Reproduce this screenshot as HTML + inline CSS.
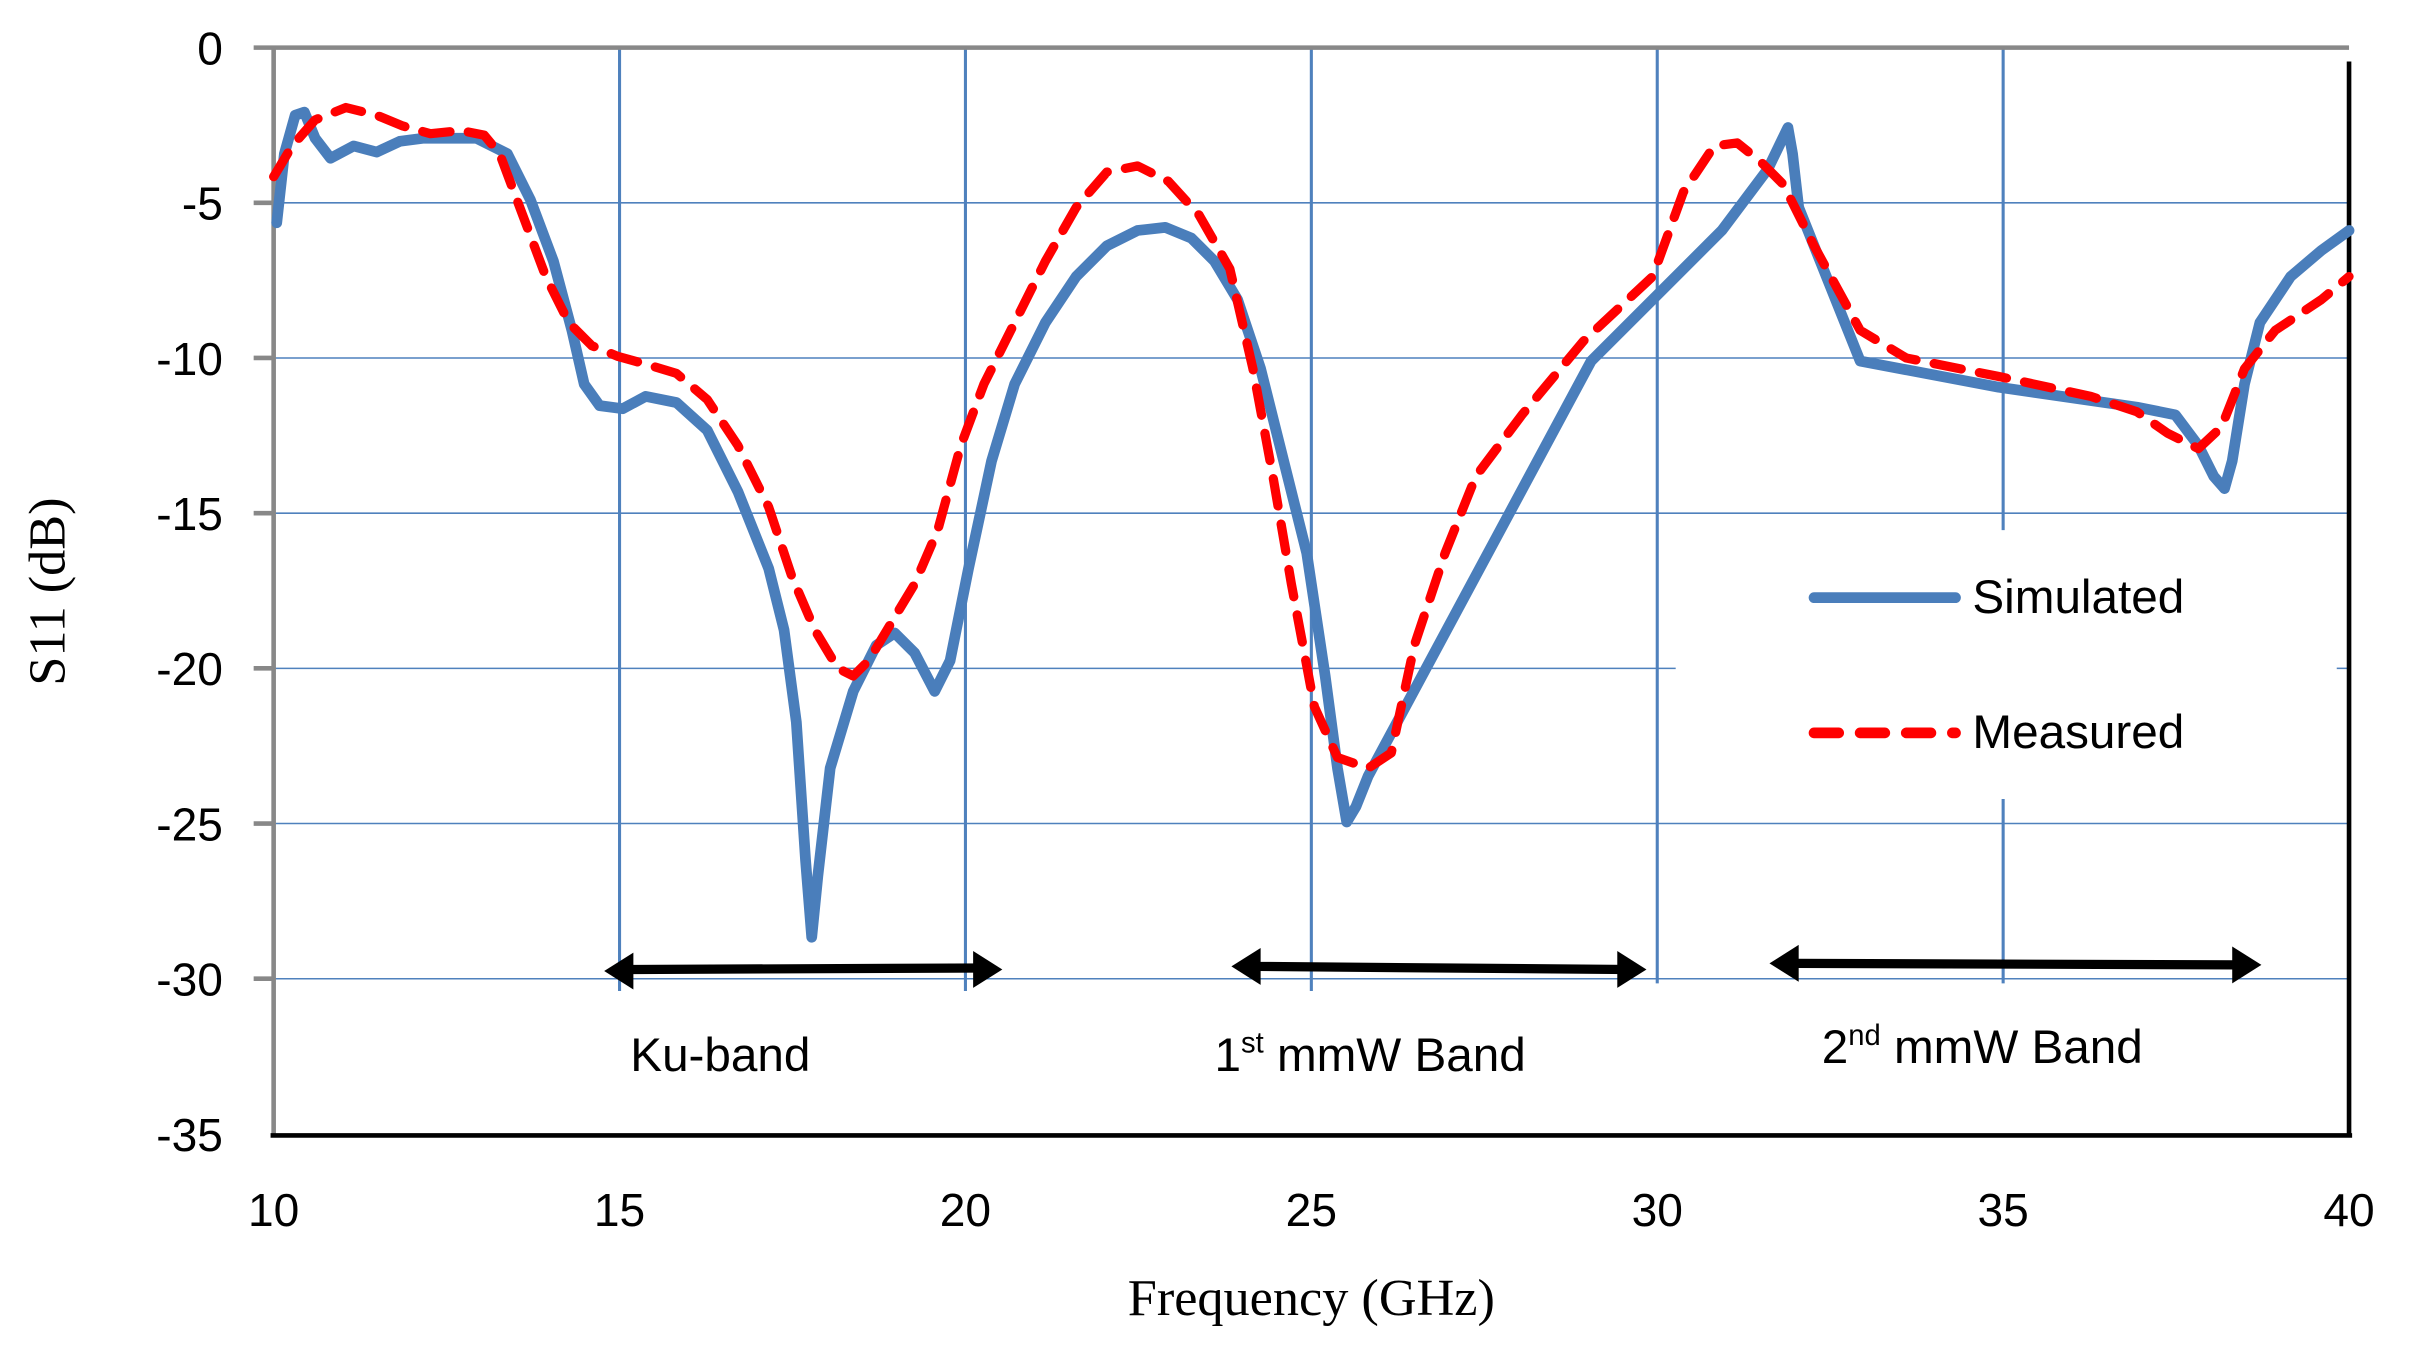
<!DOCTYPE html>
<html><head><meta charset="utf-8"><style>html,body{margin:0;padding:0;background:#fff}svg{display:block}</style></head>
<body>
<svg width="2409" height="1349" viewBox="0 0 1567 878" preserveAspectRatio="none" xmlns="http://www.w3.org/2000/svg">
<rect width="1567" height="878" fill="#fff"/>
<g stroke="#4f81bd" stroke-width="1">
<line x1="178" y1="132" x2="1528" y2="132"/>
<line x1="178" y1="233" x2="1528" y2="233"/>
<line x1="178" y1="334" x2="1528" y2="334"/>
<line x1="178" y1="435" x2="1090" y2="435"/>
<line x1="1520" y1="435" x2="1528" y2="435"/>
<line x1="178" y1="536" x2="1528" y2="536"/>
<line x1="178" y1="637" x2="1528" y2="637"/>
</g>
<g stroke="#4f81bd" stroke-width="2">
<line x1="403" y1="31" x2="403" y2="645"/>
<line x1="628" y1="31" x2="628" y2="645"/>
<line x1="853" y1="31" x2="853" y2="645"/>
<line x1="1078" y1="31" x2="1078" y2="640"/>
<line x1="1303" y1="31" x2="1303" y2="345"/>
<line x1="1303" y1="520" x2="1303" y2="640"/>
</g>
<g stroke="#888" stroke-width="3">
<line x1="178" y1="31" x2="178" y2="739"/>
<line x1="165" y1="31" x2="1528" y2="31"/>
<line x1="165" y1="132" x2="178" y2="132"/><line x1="165" y1="233" x2="178" y2="233"/>
<line x1="165" y1="334" x2="178" y2="334"/><line x1="165" y1="435" x2="178" y2="435"/>
<line x1="165" y1="536" x2="178" y2="536"/><line x1="165" y1="637" x2="178" y2="637"/>
</g>
<line x1="176" y1="739" x2="1530" y2="739" stroke="#000" stroke-width="3"/>
<line x1="1528" y1="40" x2="1528" y2="739" stroke="#000" stroke-width="3"/>
<g font-family="Liberation Sans, sans-serif" font-size="30" fill="#000" text-anchor="end">
<text x="145" y="42">0</text><text x="145" y="143">-5</text><text x="145" y="244">-10</text>
<text x="145" y="345">-15</text><text x="145" y="446">-20</text><text x="145" y="547">-25</text>
<text x="145" y="648">-30</text><text x="145" y="749">-35</text>
</g>
<g font-family="Liberation Sans, sans-serif" font-size="30" fill="#000" text-anchor="middle">
<text x="178" y="798">10</text><text x="403" y="798">15</text><text x="628" y="798">20</text>
<text x="853" y="798">25</text><text x="1078" y="798">30</text><text x="1303" y="798">35</text><text x="1528" y="798">40</text>
</g>
<text x="853" y="856" font-family="Liberation Serif, serif" font-size="34" text-anchor="middle">Frequency (GHz)</text>
<text transform="translate(42,385) rotate(-90)" font-family="Liberation Serif, serif" font-size="34" text-anchor="middle">S11 (dB)</text>
<path fill="none" stroke="#4a7ebb" stroke-width="7" stroke-linejoin="round" stroke-linecap="round" d="M180,145 L185,100 L192,75 L198,73 L205,90 L215,103 L230,95 L245,99 L260,92 L275,90 L290,90 L310,90 L330,100 L345,130 L360,170 L372,215 L380,250 L390,264 L405,266 L420,258 L440,262 L460,280 L480,320 L500,370 L510,410 L518,470 L524,560 L528,610 L532,570 L540,500 L555,450 L570,420 L582,412 L595,425 L608,450 L618,430 L630,370 L645,300 L660,250 L680,210 L700,180 L720,160 L740,150 L758,148 L775,155 L790,170 L805,195 L820,240 L835,300 L850,360 L862,440 L870,500 L876,535 L882,525 L890,505 L1035,235 L1120,150 L1150,110 L1163,83 L1166,100 L1170,135 L1210,235 L1300,252 L1390,265 L1415,270 L1430,290 L1440,310 L1447,318 L1452,300 L1460,250 L1470,210 L1490,180 L1510,163 L1528,150"/>
<path fill="none" stroke="#ff0000" stroke-width="6" stroke-dasharray="18,12" stroke-linejoin="round" stroke-linecap="round" d="M178,115 L190,95 L205,78 L225,70 L245,75 L262,82 L280,87 L300,85 L315,88 L325,100 L340,140 L355,180 L370,210 L385,225 L402,232 L420,237 L440,243 L460,260 L480,290 L500,330 L515,375 L530,410 L545,435 L555,440 L565,430 L580,405 L595,380 L610,345 L625,290 L640,250 L660,210 L680,170 L700,135 L720,112 L740,108 L760,118 L780,140 L800,175 L815,240 L828,310 L840,380 L855,460 L870,493 L890,500 L905,490 L920,420 L940,360 L960,310 L990,270 L1030,222 L1075,180 L1095,125 L1115,95 L1130,93 L1145,105 L1160,120 L1180,160 L1210,215 L1240,233 L1300,245 L1360,258 L1390,268 L1410,282 L1430,292 L1445,278 L1460,240 L1480,215 L1510,195 L1528,180"/>
<line x1="1180" y1="389" x2="1272" y2="389" stroke="#4a7ebb" stroke-width="7" stroke-linecap="round"/>
<line x1="1180" y1="477" x2="1272" y2="477" stroke="#ff0000" stroke-width="7" stroke-linecap="round" stroke-dasharray="16,14"/>
<g font-family="Liberation Sans, sans-serif" font-size="31" fill="#000">
<text x="1283" y="399">Simulated</text>
<text x="1283" y="487">Measured</text>
<text x="410" y="697">Ku-band</text>
<text x="790" y="697">1<tspan font-size="19" dy="-12">st</tspan><tspan dy="12"> mmW  Band</tspan></text>
<text x="1185" y="692">2<tspan font-size="19" dy="-12">nd</tspan><tspan dy="12"> mmW Band</tspan></text>
</g>
<g fill="#000">
<path d="M410,631 L640,630" stroke="#000" stroke-width="6"/>
<polygon points="393,632 412,620 412,644"/><polygon points="652,631 633,619 633,643"/>
<path d="M818,629 L1058,631" stroke="#000" stroke-width="6"/>
<polygon points="801,629 820,617 820,641"/><polygon points="1071,631 1052,619 1052,643"/>
<path d="M1168,627 L1455,628" stroke="#000" stroke-width="6"/>
<polygon points="1151,627 1170,615 1170,639"/><polygon points="1471,628 1452,616 1452,640"/>
</g>
</svg>
</body></html>
